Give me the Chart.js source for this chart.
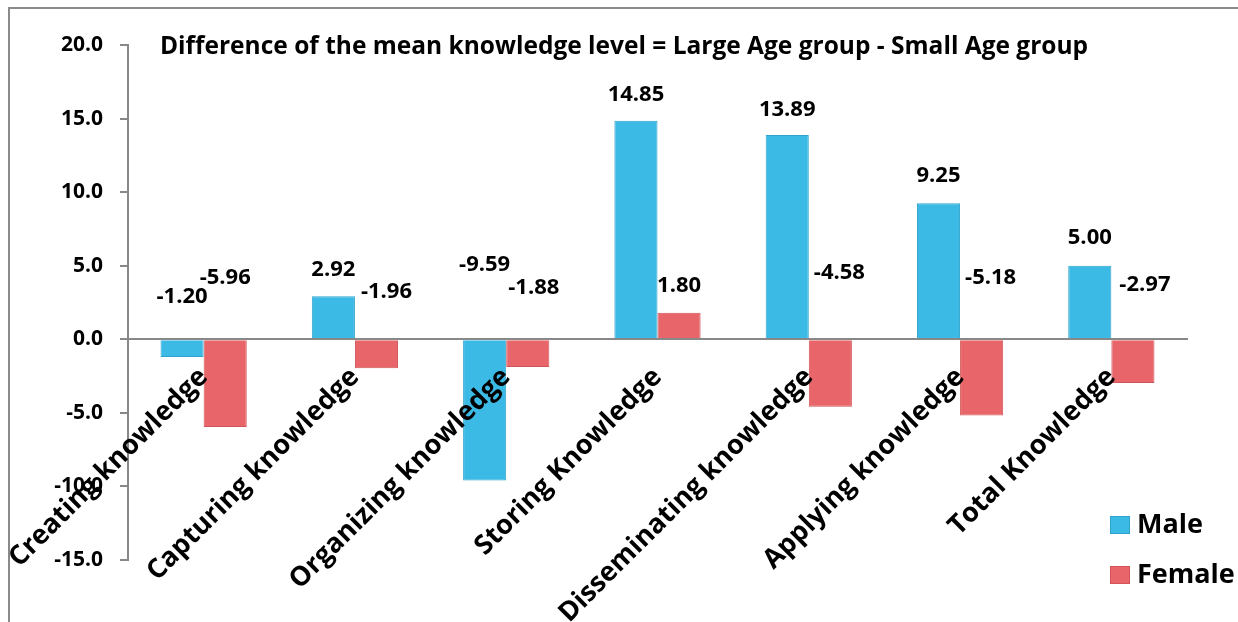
<!DOCTYPE html>
<html>
<head>
<meta charset="utf-8">
<script src="https://cdn.jsdelivr.net/npm/chart.js@4/dist/chart.umd.min.js"></script>
<style>
  html, body { margin: 0; padding: 0; background: #fff; }
  #wrap { position: relative; width: 1238px; height: 622px; }
  #frame { position: absolute; left: 8px; top: 7px; width: 1300px; height: 700px;
           border-left: 2px solid #8a8a8a; border-top: 2px solid #8a8a8a; pointer-events: none; }
  canvas { position: absolute; left: 0; top: 0; }
</style>
</head>
<body>
<div id="wrap">
  <canvas id="diffChart" width="1238" height="622"></canvas>
  <div id="frame"></div>
</div>
<script>
// categories and values
const categories = [
    'Creating knowledge',
    'Capturing knowledge',
    'Organizing knowledge',
    'Storing Knowledge',
    'Disseminating knowledge',
    'Applying knowledge',
    'Total Knowledge'
];
const maleValues = [-1.20, 2.92, -9.59, 14.85, 13.89, 9.25, 5.00];
const femaleValues = [-5.96, -1.96, -1.88, 1.80, -4.58, -5.18, -2.97];
const yTicks = [-15, -10, -5, 0, 5, 10, 15, 20];
const chartTitle = 'Difference of the mean knowledge level = Large Age group - Small Age group';

// label placement (pixels above the bar top / zero line), like the hand-moved Excel labels
const maleLift = [43, 27, 75, 26, 25, 27, 28];
const femaleLift = [62, 48, 52, 27, 67, 62, 55];
const femaleShift = [0, 10, 6, 0, 9, 9, 12];

const FONT = "'Open Sans', 'DejaVu Sans', sans-serif";

const valueLabels = {
    id: 'valueLabels',
    afterDatasetsDraw(chart) {
        const ctx = chart.ctx;
        const y = chart.scales.y;
        ctx.save();
        ctx.font = 'bold 22px ' + FONT;
        ctx.fillStyle = '#000';
        ctx.textAlign = 'center';
        ctx.textBaseline = 'middle';
        chart.data.datasets.forEach((ds, di) => {
            const meta = chart.getDatasetMeta(di);
            const lift = di === 0 ? maleLift : femaleLift;
            meta.data.forEach((bar, i) => {
                const v = ds.data[i];
                const base = y.getPixelForValue(Math.max(v, 0));
                const dx = di === 0 ? 0 : femaleShift[i];
                ctx.fillText(v.toFixed(2), bar.x + dx, base - lift[i]);
            });
        });
        ctx.restore();
    }
};

const titleAndLegend = {
    id: 'titleAndLegend',
    afterDraw(chart) {
        const ctx = chart.ctx;
        ctx.save();
        ctx.fillStyle = '#000';
        ctx.font = 'bold 24.5px ' + FONT;
        ctx.textAlign = 'center';
        ctx.textBaseline = 'middle';
        ctx.fillText(chartTitle, 624, 47);

        // legend, bottom right inside the plot
        ctx.textAlign = 'left';
        ctx.font = 'bold 27px ' + FONT;
        chart.data.datasets.forEach((ds, i) => {
            const top = 516 + i * 50;
            ctx.fillStyle = ds.backgroundColor;
            ctx.fillRect(1110, top, 20, 18);
            ctx.strokeStyle = ds.borderColor;
            ctx.lineWidth = 1;
            ctx.strokeRect(1110.5, top + 0.5, 19, 17);
            ctx.fillStyle = '#000';
            ctx.fillText(ds.label, 1137, top + 9);
        });
        ctx.restore();
    }
};

new Chart(document.getElementById('diffChart').getContext('2d'), {
    type: 'bar',
    data: {
        labels: categories,
        datasets: [
            {
                label: 'Male',
                data: maleValues,
                backgroundColor: '#3cbae6',
                borderColor: '#2fa3cc',
                borderWidth: 1,
            },
            {
                label: 'Female',
                data: femaleValues,
                backgroundColor: '#e8666a',
                borderColor: '#d25458',
                borderWidth: 1,
            },
        ],
    },
    options: {
        responsive: false,
        animation: false,
        layout: {
            padding: { left: 10, top: 45, right: 51, bottom: 62 }
        },
        datasets: {
            bar: {
                categoryPercentage: 0.57,
                barPercentage: 1.0,
            }
        },
        scales: {
            x: {
                position: { y: 0 },
                // rotated names may hang past the plot edge, don't let them push the plot
                afterFit(scale) { scale.paddingLeft = 0; scale.paddingRight = 0; },
                grid: { display: false },
                border: { display: true, color: '#888', width: 2, z: 1 },
                ticks: {
                    z: 1, // category names sit on top of the bars
                    autoSkip: false,
                    minRotation: 45,
                    maxRotation: 45,
                    padding: 14,
                    color: '#000',
                    font: { family: FONT, size: 27, weight: 'bold' },
                },
            },
            y: {
                min: -15,
                max: 20,
                afterFit(scale) { scale.width = 118; }, // puts the axis line at x=128
                afterBuildTicks(scale) { scale.ticks = yTicks.map(v => ({ value: v })); },
                grid: { drawOnChartArea: false, drawTicks: true, tickLength: 8, color: '#888', lineWidth: 2 },
                border: { display: true, color: '#888', width: 2 },
                ticks: {
                    padding: 17,
                    color: '#000',
                    font: { family: FONT, size: 21, weight: 'bold' },
                    callback: v => Number(v).toFixed(1),
                },
            },
        },
        plugins: {
            legend: { display: false },
            title: { display: false },
            tooltip: { enabled: false },
        },
    },
    plugins: [valueLabels, titleAndLegend],
});
</script>
</body>
</html>
